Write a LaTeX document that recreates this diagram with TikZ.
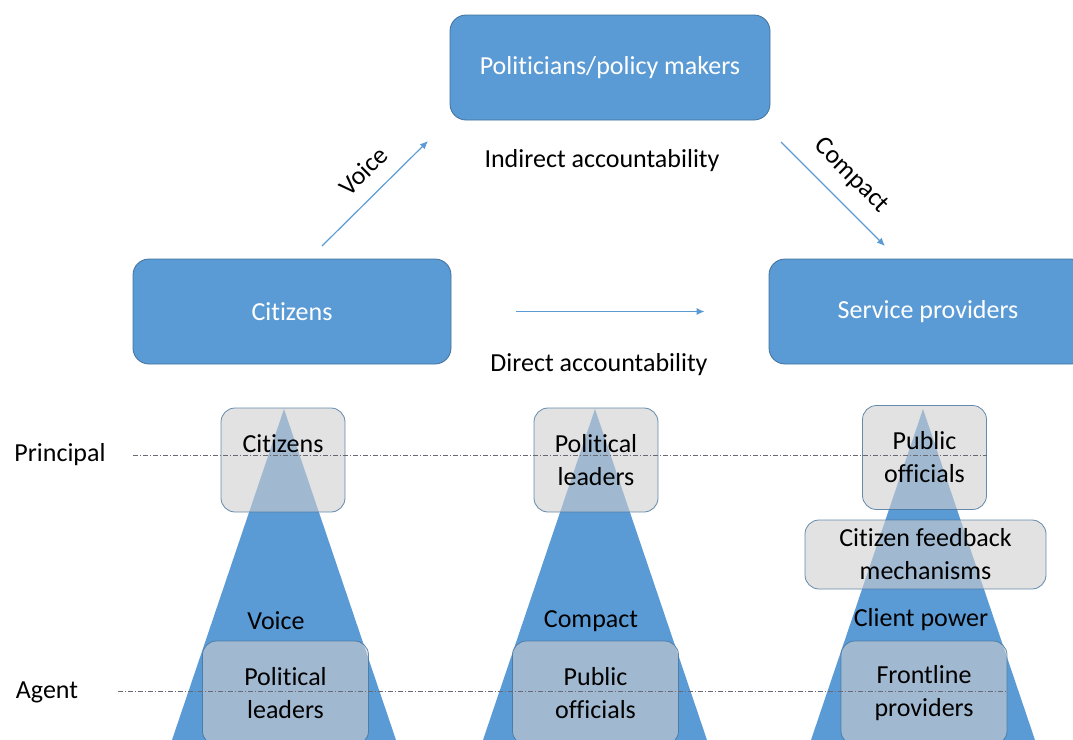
\documentclass[tikz,border=0pt]{standalone}
\usepackage{fontspec}
\setmainfont{Carlito}[Ligatures=NoCommon]
\usepackage{xcolor}
\usepackage{tikz}
\usetikzlibrary{positioning,calc,arrows.meta}
\definecolor{boxblue}{RGB}{91,155,213}
\definecolor{edgeblue}{RGB}{65,113,156}
\definecolor{boxgrey}{RGB}{208,206,206}
\definecolor{guidegrey}{RGB}{105,105,115}

\begin{document}
\begin{tikzpicture}[x=0.5pt, y=-0.5pt,
    font=\fontsize{13}{16.5}\selectfont,
    actor/.style={rectangle, rounded corners=8pt, fill=boxblue, draw=edgeblue, line width=0.4pt,
        text=white, minimum width=159pt, minimum height=52.5pt},
    role/.style={rectangle, rounded corners=7pt, fill=boxgrey, fill opacity=0.6, text opacity=1,
        draw=edgeblue, draw opacity=0.8, line width=0.4pt, align=center,
        minimum width=62pt, minimum height=52pt, inner sep=0pt},
    agentrole/.style={role, minimum width=83pt},
    route/.style={draw=boxblue, line width=0.6pt, -{Latex[length=4pt,width=3.5pt]}},
    guide/.style={draw=guidegrey, line width=0.4pt, dash pattern=on 2.5pt off 1pt on 0.5pt off 1pt},
    wedge/.style={fill=boxblue}]

    \clip (0,0) rectangle (1073,740);

    % long route
    \node[actor, minimum width=160pt] (pol) at (610,67.5) {Politicians/policy makers};
    \node[actor] (cit) at (292,311.5) {Citizens};
    \node[actor] (serv) at (928,311.5) {Service providers};

    \coordinate (v0) at (322,246);
    \coordinate (v1) at (428,141);
    \coordinate (c0) at (781,142);
    \coordinate (c1) at (885,246);
    \draw[route] (v0) -- node[pos=0.55, above=4pt, sloped] {Voice} (v1);
    \draw[route] (c0) -- node[midway, above=4pt, sloped] {Compact} (c1);
    \draw[route] ([xshift=32.5pt]cit.east) -- ([xshift=-32pt]serv.west);

    \node (indirect) at (602,161) {Indirect accountability};
    \node (direct) at (599,365) {Direct accountability};

    % principal-agent chains
    \foreach \cx in {284,595,923}
        \fill[wedge] (\cx,409) -- ++(-112,331) -- ++(224,0) -- cycle;

    \node[role] (citP) at (283,460) {Citizens\\\mbox{}};
    \node[role] (polP) at (596,460) {Political\\leaders};
    \node[role] (pubP) at (924.5,457.5) {Public\\officials};
    \node[role, minimum width=120.5pt, minimum height=34.5pt] (feed) at (925.5,554.5) {Citizen feedback\\mechanisms};

    \node (voice) at (276,621) {Voice};
    \node (compact) at (591,621) {Compact};
    \node (client) at (921,620) {Client power};

    \node[agentrole] (polA) at (285.5,693) {Political\\leaders};
    \node[agentrole] (pubA) at (595.5,693) {Public\\officials};
    \node[agentrole] (front) at (924,693) {Frontline\\providers};

    \node (prin) at (60,455) {Principal};
    \node (agent) at (47,692) {Agent};
    \coordinate (p0) at (133,455);
    \coordinate (a0) at (118,691);
    \draw[guide] (p0) -- (p0 -| pubP.east);
    \draw[guide] (a0) -- (a0 -| front.east);
\end{tikzpicture}
\end{document}
